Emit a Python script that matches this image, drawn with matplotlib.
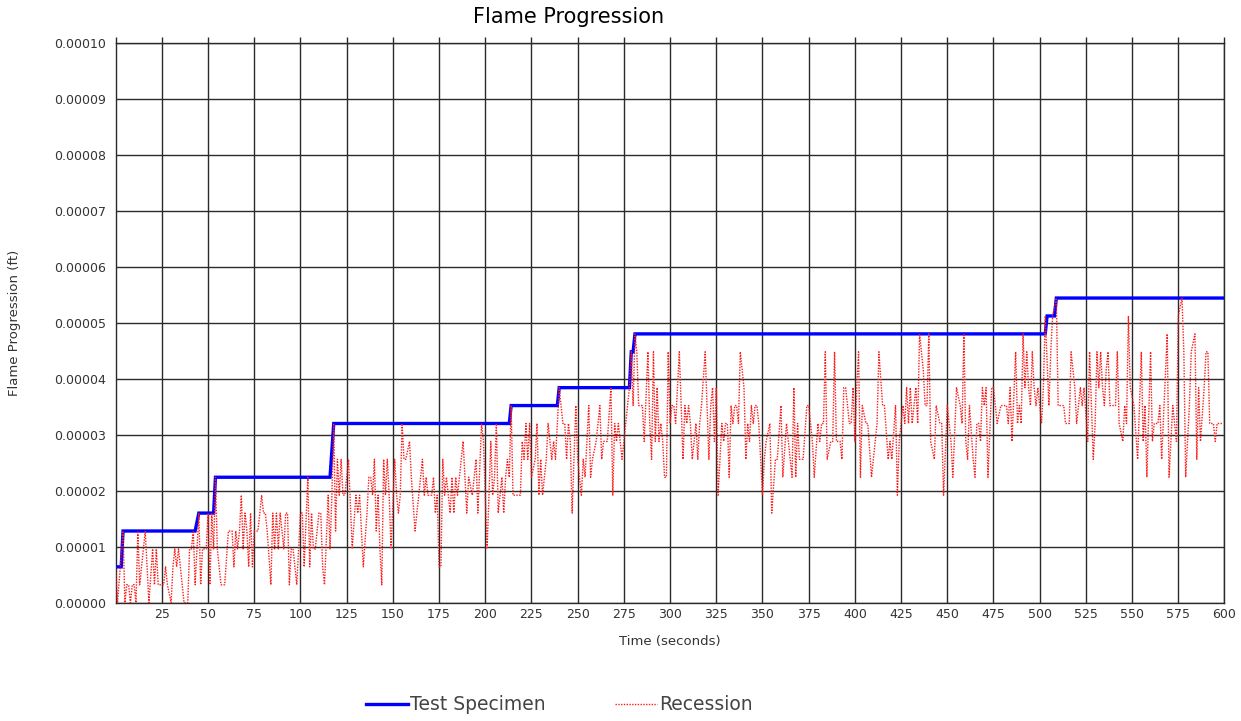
import matplotlib
matplotlib.use("Agg")
import matplotlib.pyplot as plt
import numpy as np

# Values are stored in recorded increments of 3.2e-6 ft
INCREMENT_FT = 3.2e-6

# Test Specimen step trace: (time s, increments)
specimen_time = [0, 3, 4, 43, 45, 53, 54, 116, 118, 213, 214, 239, 240, 278, 279, 280, 281, 503, 504, 508, 509, 600]
specimen_level = [2, 2, 4, 4, 5, 5, 7, 7, 10, 10, 11, 11, 12, 12, 14, 14, 15, 15, 16, 16, 17, 17]

# Recession trace: (time s, increments)
recession_points = [
    (0,2),(1,0),(4,4),(5,0),(6,1),(7,1),(8,0),(9,1),(10,1),(11,0),(12,4),(13,1),(14,2),(16,4),(18,0),(20,3),
    (21,1),(22,3),(23,1),(24,1),(26,1),(27,2),(28,1),(30,0),(31,2),(32,3),(33,2),(34,3),(35,2),(37,0),(39,0),
    (40,3),(41,3),(42,4),(43,1),(45,5),(46,1),(47,3),(49,3),(50,5),(51,1),(52,5),(53,3),(54,7),(55,3),(57,1),(58,1),
    (59,1),(61,4),(62,4),(63,4),(64,2),(65,4),(66,3),(67,4),(68,6),(69,3),(70,5),(71,4),(72,2),(73,5),(74,2),
    (75,4),(76,4),(77,4),(79,6),(80,5),(81,5),(82,4),(84,1),(85,5),(86,3),(87,5),(88,3),(89,5),(91,3),(92,5),
    (93,5),(94,1),(95,3),(96,3),(98,1),(100,5),(101,5),(102,2),(104,7),(105,2),(106,5),(107,3),(108,3),(110,5),
    (111,5),(112,2),(113,1),(115,6),(116,3),(117,6),(118,10),
    (119,4),(120,8),(121,6),(122,8),(123,6),(124,6),(126,8),(128,3),(130,6),(131,5),(132,6),(133,4),(134,2),
    (136,5),(137,7),(138,7),(139,6),(140,8),(141,4),(142,6),(143,3),(144,1),(145,8),(146,6),(147,8),(148,6),
    (149,3),(151,8),(152,6),(153,5),(154,6),(155,10),(156,8),(157,8),(159,9),(160,7),(162,4),(163,5),(164,6),
    (166,8),(167,6),(168,7),(169,6),(171,6),(172,7),(173,5),(174,6),(175,2),(176,2),
    (177,8),(178,6),(179,7),(181,5),(182,7),(183,5),(184,7),(185,6),(186,7),(188,9),(189,7),(190,5),(191,7),
    (193,6),(194,7),(195,8),(196,5),(198,10),(199,9),(201,3),(203,9),(204,6),(205,7),(206,10),(207,5),(209,7),
    (210,5),(211,7),(212,8),(213,7),(214,11),(215,6),(216,6),(219,6),(220,9),(221,8),(222,10),(223,8),(224,10),
    (225,7),(227,8),(228,10),(229,6),(230,8),(231,6),(233,8),(234,10),(236,8),(237,9),
    (238,8),(240,12),(241,11),(242,10),(243,10),(244,8),(245,10),(246,9),(247,5),(249,11),(250,8),(252,6),
    (253,8),(254,7),(255,9),(256,11),(257,7),(258,8),(260,9),(262,11),(263,8),(264,9),(266,9),(268,12),(269,6),
    (270,10),(271,9),(272,10),(273,9),(274,8),(275,9),(277,11),(278,12),(279,14),(280,11),(281,15),(282,14),
    (283,11),(285,11),(286,9),(288,14),(289,10),(290,8),(291,14),(292,9),(293,12),(294,9),(295,10),
    (296,9),(297,7),(298,7),(299,14),(300,10),(301,11),(302,11),(303,10),(304,12),(305,14),(307,8),(308,11),
    (309,10),(310,11),(311,10),(312,8),(313,9),(314,10),(315,8),(316,10),(317,11),(319,14),(320,11),(321,8),
    (322,11),(323,12),(324,9),(325,12),(326,6),(328,10),(329,9),(330,10),(331,10),(332,7),(333,11),(334,10),
    (335,11),(336,11),(337,10),(338,14),(340,12),(341,8),(342,10),(343,9),(344,11),(345,10),(346,11),(347,11),
    (348,10),(350,6),(351,8),(352,9),
    (354,10),(355,5),(357,8),(358,8),(360,11),(361,7),(363,10),(364,9),(366,7),(367,12),(368,7),(369,10),
    (370,8),(372,8),(374,11),(375,11),(377,9),(378,7),(380,10),(381,9),(382,10),(383,10),(384,14),(385,8),
    (387,9),(388,9),(389,14),(390,9),(392,9),(393,8),(394,12),(395,12),(397,10),(398,10),(399,12),(400,9),
    (401,12),(402,14),(403,7),(404,11),(406,10),(407,10),(409,7),(411,9),(412,10),(413,14),
    (415,11),(416,11),(418,8),(419,9),(420,8),(422,11),(423,6),(424,9),(426,11),(427,10),(428,12),(429,10),
    (430,12),(431,10),(433,12),(434,10),(435,15),(437,13),(438,11),(439,11),(440,15),(441,9),(443,8),(444,11),
    (446,10),(447,10),(448,6),(450,11),(451,10),(452,9),(453,7),(455,12),(457,11),(458,10),(459,15),(460,9),
    (461,8),(462,11),(464,8),(465,7),(466,10),(467,10),(468,9),(469,12),(470,11),(471,12),(472,7),
    (474,12),(475,12),(477,10),(479,11),(482,11),(483,10),(484,12),(485,9),(487,14),(488,10),(489,11),(490,10),
    (491,15),(492,12),(493,14),(494,12),(495,11),(496,14),(497,12),(498,11),(499,12),(501,10),(502,12),(503,16),
    (505,11),(506,14),(507,16),(509,17),(510,11),(513,11),(514,10),(516,10),(517,14),(518,13),(519,12),(520,10),
    (521,11),(522,12),(523,11),(524,12),(526,9),(527,14),(529,8),(530,10),(531,14),(532,12),(533,14),(534,12),
    (535,11),(536,13),(537,14),(538,11),(541,11),(542,14),(543,10),(545,9),(546,11),(547,10),(548,16),(549,12),
    (551,11),(553,8),(555,14),(556,9),(557,11),(558,7),(560,14),(561,9),(562,10),(564,10),(565,11),(566,8),
    (569,15),(570,7),(572,11),(574,9),(575,16),(577,17),(578,14),(579,7),(581,11),(582,14),(584,15),(585,8),
    (586,12),(587,9),(589,12),(590,14),(591,14),(592,10),(594,10),(595,9),(596,10),(599,10),
]

x_ticks = list(range(25, 601, 25))
y_ticks = [0.0, 0.00001, 0.00002, 0.00003, 0.00004, 0.00005, 0.00006, 0.00007, 0.00008, 0.00009, 0.0001]

title = "Flame Progression"
x_label = "Time (seconds)"
y_label = "Flame Progression (ft)"
series_names = ["Test Specimen", "Recession"]

rec_t = np.array([p[0] for p in recession_points], dtype=float)
rec_v = np.array([p[1] for p in recession_points], dtype=float) * INCREMENT_FT
spec_t = np.array(specimen_time, dtype=float)
spec_v = np.array(specimen_level, dtype=float) * INCREMENT_FT

plt.rcParams['font.family'] = ['DejaVu Sans']
fig = plt.figure(figsize=(12.41, 7.21), dpi=100)
ax = fig.add_axes([0.0932, 0.1641, 0.8935, 0.7767])

grid_color = '#2a2a2a'
ax.set_xlim(0, 600)
ax.set_ylim(0, 0.0001)
ax.set_xticks(x_ticks)
ax.set_xticklabels([str(t) for t in x_ticks])
ax.set_yticks(y_ticks)
ax.set_yticklabels([f"{v:.5f}" for v in y_ticks])
ax.grid(True, color=grid_color, linewidth=1.0)
ax.set_axisbelow(True)
for s in ax.spines.values():
    s.set_color(grid_color)
    s.set_linewidth(1.0)
ax.tick_params(axis='both', which='both', length=0, labelsize=9, colors='#333333')
ax.tick_params(axis='x', pad=4)
ax.tick_params(axis='y', pad=7)

# short grid extensions above the top edge
top = ax.secondary_xaxis('top')
top.set_xticks([0] + x_ticks)
top.tick_params(length=4, color=grid_color, width=1.0, labeltop=False, direction='out')
top.spines['top'].set_visible(False)

l1, = ax.plot(spec_t, spec_v, color='#0000ff', linewidth=2.4, solid_joinstyle='miter', zorder=3)
l2, = ax.plot(rec_t, rec_v, color='#ff1a1a', linewidth=1.0, linestyle=(0, (1, 1)), zorder=4)

ax.set_xlabel(x_label, fontsize=9.5, color='#333333', labelpad=10)
ax.set_ylabel(y_label, fontsize=9.5, color='#333333', labelpad=24)

fig.text(569 / 1241, 1 - 17 / 721, title, ha='center', va='center', fontsize=15, color='black')

leg = fig.legend([l1, l2], series_names, loc='center', bbox_to_anchor=(559 / 1241, 1 - 705 / 721),
                 ncol=2, frameon=False, fontsize=13.5, handlelength=2.25, handletextpad=0.1,
                 columnspacing=3.7, labelcolor='#444444')

fig.savefig("out.png", dpi=100)
